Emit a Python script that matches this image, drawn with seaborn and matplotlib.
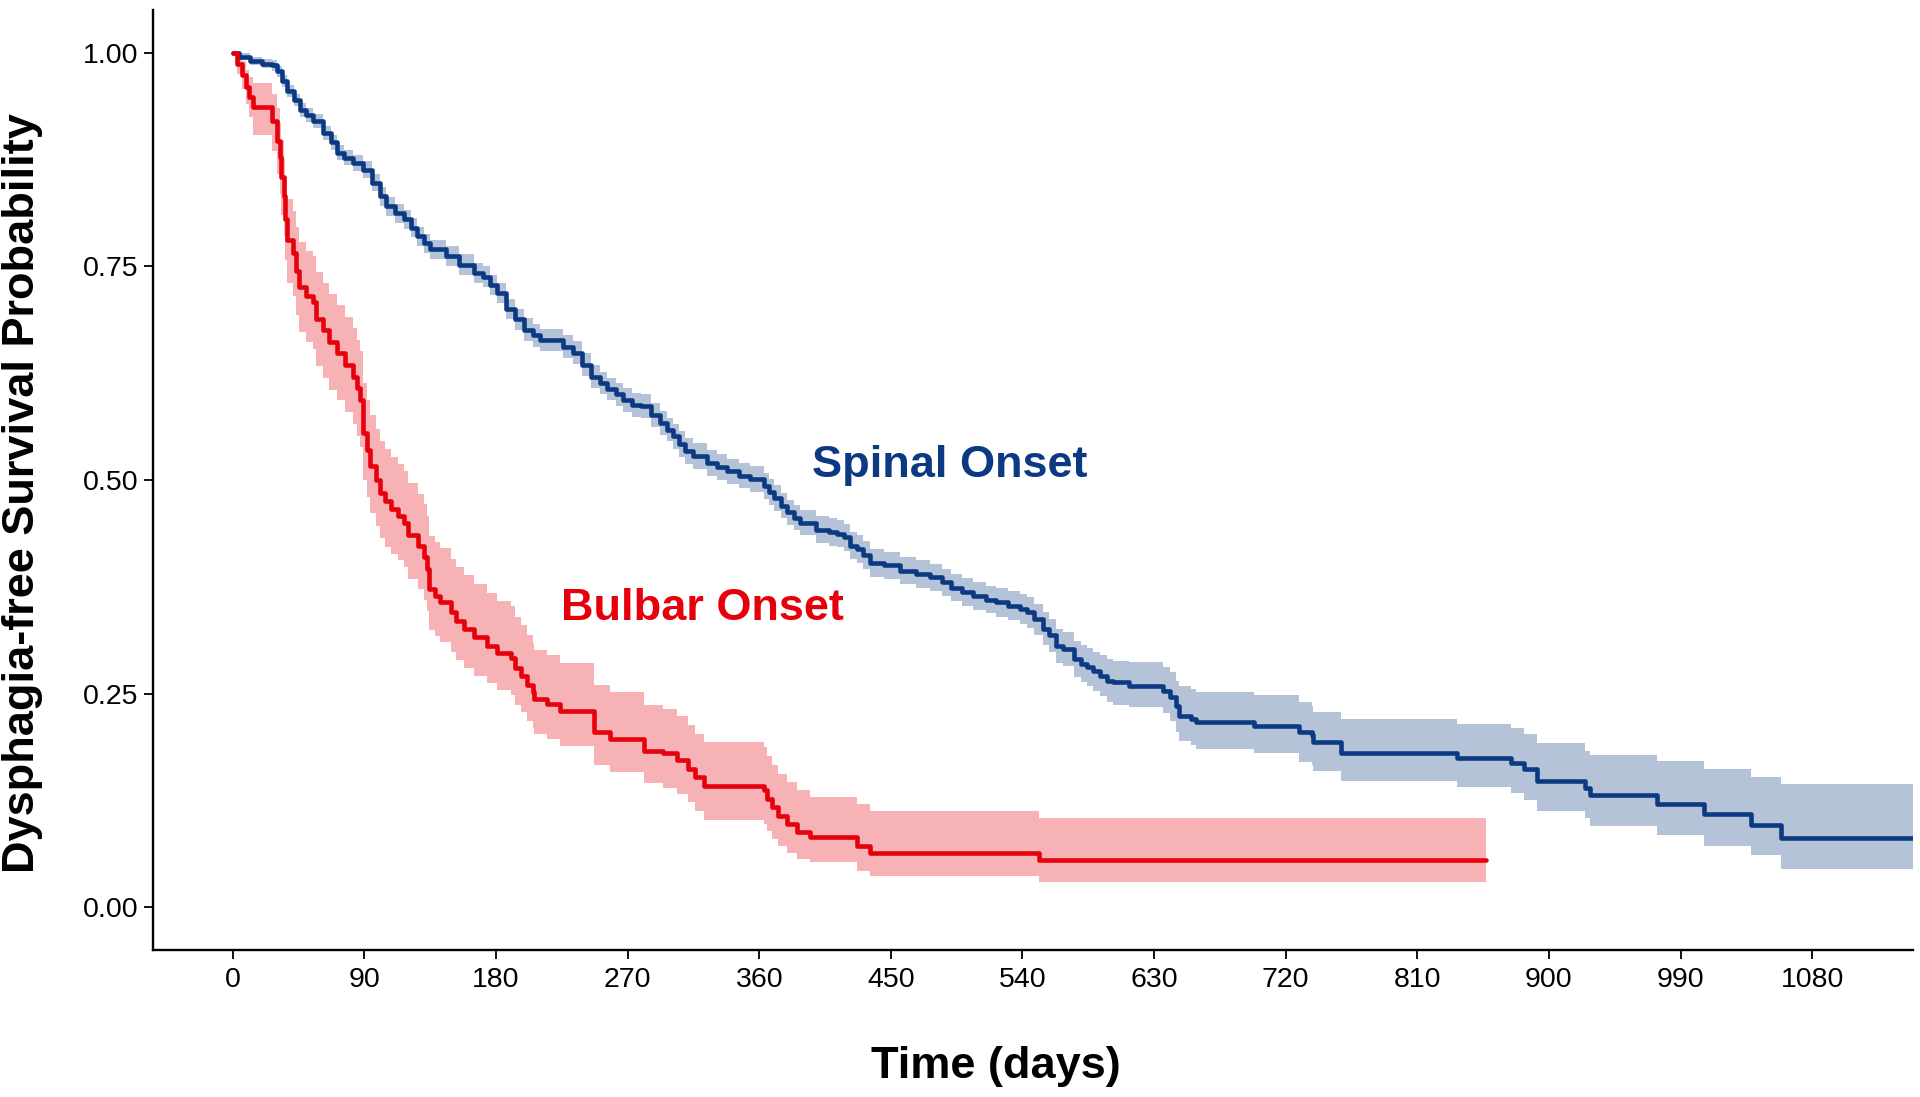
import matplotlib
matplotlib.use("Agg")
import matplotlib.pyplot as plt
import numpy as np
import pandas as pd
import seaborn as sns

# --- Kaplan-Meier estimates ---
SPINAL_T = [0, 4, 12, 20, 27, 30, 34, 37, 42, 46, 50, 55, 62, 67, 71, 76, 82, 89, 95,
            101, 105, 111, 117, 122, 126, 131, 135, 146, 155, 165, 171, 176, 181, 187,
            193, 199, 205, 210, 226, 233, 239, 245, 251, 256, 262, 267, 273, 279, 286,
            292, 297, 301, 305, 309, 315, 324, 331, 338, 346, 354, 363, 367, 370, 375,
            379, 384, 388, 399, 408, 413, 418, 422, 427, 431, 436, 445, 456, 467, 477,
            485, 491, 499, 506, 515, 522, 530, 538, 543, 548, 554, 558, 563, 568, 575,
            580, 584, 588, 593, 598, 602, 613, 636, 641, 645, 647, 655, 659, 698, 729,
            738, 739, 758, 837, 874, 883, 892, 925, 928, 974, 1006, 1038, 1059, 1149]
SPINAL_S = [1.000, 0.995, 0.990, 0.987, 0.985, 0.978, 0.967, 0.955, 0.944, 0.933, 0.927,
            0.920, 0.906, 0.895, 0.883, 0.877, 0.871, 0.863, 0.848, 0.832, 0.820, 0.812,
            0.805, 0.795, 0.785, 0.777, 0.770, 0.762, 0.752, 0.742, 0.738, 0.728, 0.719,
            0.700, 0.688, 0.676, 0.669, 0.664, 0.656, 0.649, 0.635, 0.621, 0.613, 0.606,
            0.600, 0.594, 0.588, 0.586, 0.576, 0.567, 0.559, 0.551, 0.542, 0.534, 0.528,
            0.520, 0.515, 0.510, 0.505, 0.501, 0.493, 0.486, 0.479, 0.470, 0.462, 0.456,
            0.450, 0.442, 0.439, 0.437, 0.433, 0.423, 0.419, 0.412, 0.403, 0.400, 0.394,
            0.390, 0.386, 0.380, 0.374, 0.369, 0.364, 0.360, 0.357, 0.353, 0.349, 0.345,
            0.337, 0.326, 0.318, 0.306, 0.302, 0.290, 0.285, 0.281, 0.276, 0.271, 0.265,
            0.263, 0.259, 0.253, 0.246, 0.236, 0.224, 0.220, 0.217, 0.212, 0.205, 0.201,
            0.193, 0.181, 0.175, 0.169, 0.162, 0.148, 0.139, 0.131, 0.121, 0.109, 0.096,
            0.081, 0.081]
SPINAL_LO = [1.000, 0.991, 0.985, 0.982, 0.979, 0.972, 0.960, 0.948, 0.937, 0.925, 0.919,
             0.912, 0.898, 0.886, 0.874, 0.868, 0.862, 0.853, 0.838, 0.821, 0.809, 0.801,
             0.794, 0.784, 0.774, 0.766, 0.759, 0.750, 0.740, 0.730, 0.726, 0.716, 0.707,
             0.688, 0.676, 0.663, 0.656, 0.651, 0.643, 0.636, 0.622, 0.608, 0.600, 0.593,
             0.587, 0.580, 0.574, 0.572, 0.562, 0.553, 0.545, 0.536, 0.527, 0.519, 0.513,
             0.505, 0.500, 0.495, 0.490, 0.486, 0.478, 0.471, 0.464, 0.455, 0.447, 0.441,
             0.435, 0.426, 0.423, 0.421, 0.417, 0.407, 0.403, 0.396, 0.387, 0.384, 0.378,
             0.374, 0.370, 0.364, 0.358, 0.353, 0.348, 0.344, 0.340, 0.336, 0.332, 0.327,
             0.319, 0.307, 0.299, 0.286, 0.282, 0.269, 0.263, 0.259, 0.253, 0.247, 0.240,
             0.237, 0.234, 0.227, 0.218, 0.205, 0.195, 0.190, 0.185, 0.180, 0.170, 0.166,
             0.160, 0.148, 0.141, 0.134, 0.126, 0.113, 0.104, 0.095, 0.085, 0.072, 0.061,
             0.045, 0.045]
SPINAL_HI = [1.000, 0.999, 0.995, 0.992, 0.991, 0.984, 0.974, 0.962, 0.951, 0.941, 0.935,
             0.928, 0.914, 0.904, 0.892, 0.886, 0.880, 0.873, 0.858, 0.843, 0.831, 0.823,
             0.816, 0.806, 0.796, 0.788, 0.781, 0.774, 0.764, 0.754, 0.750, 0.740, 0.731,
             0.712, 0.700, 0.689, 0.682, 0.677, 0.669, 0.662, 0.648, 0.634, 0.626, 0.619,
             0.613, 0.608, 0.602, 0.600, 0.590, 0.581, 0.573, 0.566, 0.557, 0.549, 0.543,
             0.535, 0.530, 0.525, 0.520, 0.516, 0.508, 0.501, 0.494, 0.485, 0.477, 0.471,
             0.465, 0.458, 0.455, 0.453, 0.449, 0.439, 0.435, 0.428, 0.419, 0.416, 0.410,
             0.406, 0.402, 0.396, 0.390, 0.385, 0.380, 0.376, 0.374, 0.370, 0.366, 0.363,
             0.355, 0.345, 0.337, 0.326, 0.322, 0.311, 0.307, 0.303, 0.299, 0.295, 0.290,
             0.288, 0.287, 0.281, 0.275, 0.265, 0.259, 0.255, 0.252, 0.248, 0.240, 0.235,
             0.229, 0.220, 0.215, 0.210, 0.203, 0.192, 0.183, 0.178, 0.171, 0.162, 0.152,
             0.144, 0.144]

BULBAR_T = [0, 3, 6, 9, 11, 14, 27, 30, 32, 33, 35, 36, 37, 41, 43, 45, 50, 55, 57, 62,
            66, 71, 77, 82, 85, 87, 89, 92, 94, 98, 101, 104, 108, 113, 117, 120, 127, 131,
            133, 134, 138, 142, 149, 153, 158, 165, 174, 181, 190, 193, 197, 201, 205, 206,
            215, 224, 247, 258, 281, 294, 304, 311, 316, 322, 363, 365, 369, 373, 379, 386,
            395, 427, 436, 551, 857]
BULBAR_S = [1.000, 0.987, 0.974, 0.960, 0.948, 0.936, 0.920, 0.897, 0.878, 0.855, 0.832,
            0.805, 0.781, 0.766, 0.745, 0.726, 0.715, 0.708, 0.688, 0.675, 0.661, 0.649,
            0.635, 0.621, 0.607, 0.594, 0.555, 0.535, 0.516, 0.500, 0.485, 0.475, 0.466,
            0.458, 0.450, 0.435, 0.423, 0.410, 0.396, 0.372, 0.364, 0.357, 0.345, 0.335,
            0.326, 0.316, 0.306, 0.298, 0.292, 0.280, 0.271, 0.260, 0.252, 0.244, 0.238,
            0.230, 0.205, 0.197, 0.183, 0.180, 0.172, 0.162, 0.152, 0.142, 0.137, 0.127,
            0.117, 0.107, 0.098, 0.088, 0.082, 0.072, 0.064, 0.055, 0.055]
BULBAR_LO = [1.000, 0.975, 0.958, 0.940, 0.925, 0.904, 0.885, 0.858, 0.835, 0.810, 0.786,
             0.757, 0.731, 0.715, 0.693, 0.673, 0.661, 0.653, 0.633, 0.619, 0.605, 0.593,
             0.579, 0.565, 0.551, 0.538, 0.500, 0.480, 0.461, 0.446, 0.432, 0.422, 0.413,
             0.406, 0.398, 0.384, 0.372, 0.360, 0.347, 0.324, 0.317, 0.310, 0.299, 0.289,
             0.280, 0.271, 0.262, 0.254, 0.248, 0.237, 0.228, 0.218, 0.210, 0.203, 0.197,
             0.189, 0.166, 0.158, 0.145, 0.139, 0.132, 0.123, 0.113, 0.102, 0.097, 0.089,
             0.080, 0.072, 0.064, 0.057, 0.053, 0.043, 0.037, 0.029, 0.029]
BULBAR_HI = [1.000, 0.998, 0.990, 0.980, 0.972, 0.964, 0.952, 0.935, 0.918, 0.898, 0.876,
             0.851, 0.829, 0.815, 0.796, 0.778, 0.768, 0.762, 0.743, 0.730, 0.717, 0.705,
             0.691, 0.678, 0.664, 0.651, 0.613, 0.594, 0.576, 0.560, 0.546, 0.536, 0.527,
             0.519, 0.511, 0.496, 0.484, 0.472, 0.458, 0.434, 0.427, 0.420, 0.408, 0.398,
             0.389, 0.378, 0.368, 0.358, 0.352, 0.340, 0.330, 0.318, 0.309, 0.301, 0.295,
             0.286, 0.260, 0.252, 0.237, 0.232, 0.224, 0.213, 0.203, 0.193, 0.187, 0.177,
             0.166, 0.156, 0.147, 0.137, 0.129, 0.121, 0.113, 0.105, 0.105]

X_TICKS = list(range(0, 1081, 90))
Y_TICKS = [0.0, 0.25, 0.5, 0.75, 1.0]
Y_TICK_LABELS = ["0.00", "0.25", "0.50", "0.75", "1.00"]

BLUE = "#0c3a82"
RED = "#e6000b"


def build_frame():
    spinal = pd.DataFrame({"time": SPINAL_T, "surv": SPINAL_S, "lo": SPINAL_LO,
                           "hi": SPINAL_HI, "group": "Spinal Onset"})
    bulbar = pd.DataFrame({"time": BULBAR_T, "surv": BULBAR_S, "lo": BULBAR_LO,
                           "hi": BULBAR_HI, "group": "Bulbar Onset"})
    return pd.concat([spinal, bulbar], ignore_index=True)


def main():
    df = build_frame()
    sns.set_theme(style="ticks")
    plt.rcParams["font.family"] = ["Liberation Sans", "DejaVu Sans"]
    plt.rcParams["text.color"] = "black"

    fig = plt.figure(figsize=(19.2, 10.97), dpi=100)
    ax = fig.add_axes([0.0797, 0.134, 0.9167, 0.857])

    palette = {"Spinal Onset": BLUE, "Bulbar Onset": RED}

    # confidence bands first, then the step curves on top
    for name, sub in df.groupby("group"):
        ax.fill_between(sub["time"], sub["lo"], sub["hi"], step="post",
                        color=palette[name], alpha=0.3, linewidth=0)

    sns.lineplot(data=df, x="time", y="surv", hue="group", palette=palette,
                 estimator=None, sort=False, drawstyle="steps-post",
                 linewidth=3.3, legend=False, ax=ax)

    ax.text(490, 0.517, "Spinal Onset", color=BLUE, fontsize=32.5,
            fontweight="bold", ha="center", va="center")
    ax.text(321, 0.350, "Bulbar Onset", color=RED, fontsize=32.5,
            fontweight="bold", ha="center", va="center")

    ax.set_xlim(-54.5, 1149)
    ax.set_ylim(-0.05, 1.05)
    ax.set_xticks(X_TICKS)
    ax.set_yticks(Y_TICKS)
    ax.set_yticklabels(Y_TICK_LABELS)
    ax.tick_params(axis="both", labelsize=20.5, colors="black", length=6.5,
                   width=1.3, direction="out")
    ax.tick_params(axis="x", pad=6)
    ax.tick_params(axis="y", pad=4)
    ax.set_xlabel("")
    ax.set_ylabel("")

    for side in ["top", "right"]:
        ax.spines[side].set_visible(False)
    for side in ["left", "bottom"]:
        ax.spines[side].set_linewidth(1.7)
        ax.spines[side].set_color("black")

    fig.text(0.5188, 0.0278, "Time (days)", fontsize=32.5, fontweight="bold",
             color="black", ha="center", va="center")
    fig.text(0.0115, 0.5507, "Dysphagia-free Survival Probability", fontsize=32.5,
             fontweight="bold", color="black", rotation=90, ha="center", va="center")

    fig.savefig("out.png", dpi=100, facecolor="white")


if __name__ == "__main__":
    main()
